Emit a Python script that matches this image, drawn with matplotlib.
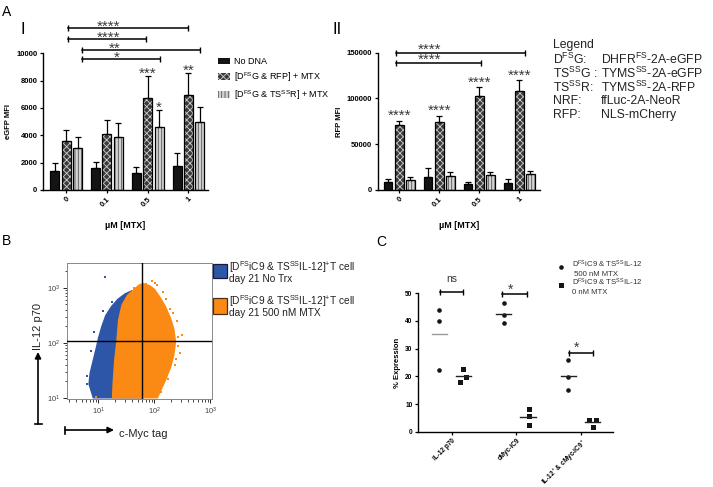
import numpy as np
import matplotlib
matplotlib.use("Agg")
import matplotlib.pyplot as plt
from matplotlib.patches import Patch, Rectangle

plt.rcParams['font.family'] = ['Liberation Sans', 'DejaVu Sans']
plt.rcParams['mathtext.fontset'] = 'custom'
plt.rcParams['mathtext.rm'] = 'Liberation Sans'
plt.rcParams['mathtext.it'] = 'Liberation Sans:italic'
plt.rcParams['mathtext.bf'] = 'Liberation Sans:bold'
plt.rcParams['hatch.linewidth'] = 0.6

W, H = 713, 487

# ---------------- panel A data ----------------
mtx_doses = ["0", "0.1", "0.5", "1"]
group_names = ["No DNA", r"[D$^{\mathrm{FS}}$G & RFP] + MTX",
               r"[D$^{\mathrm{FS}}$G & TS$^{\mathrm{SS}}$R] + MTX"]

egfp_nodna = [1400, 1600, 1250, 1750]
egfp_nodna_err = [600, 450, 400, 950]
egfp_rfp = [3600, 4100, 6750, 6950]
egfp_rfp_err = [800, 1000, 1600, 1600]
egfp_tsr = [3050, 3880, 4630, 5000]
egfp_tsr_err = [850, 1000, 1200, 1100]

rfp_nodna = [8700, 14500, 6900, 8000]
rfp_nodna_err = [3500, 9000, 2200, 3500]
rfp_rfp = [70600, 74300, 103000, 108500]
rfp_rfp_err = [5000, 6500, 9000, 11500]
rfp_tsr = [10900, 15600, 16400, 17500]
rfp_tsr_err = [3300, 4100, 3600, 3600]

# comparison brackets: (from, to, level, stars, star position)
egfp_sig = [(0.04, 3.0, 11830, "****", 1.05),
            (0.04, 1.96, 11020, "****", 1.05),
            (0.39, 3.28, 10240, "**", 1.2),
            (0.39, 2.30, 9560, "*", 1.24)]
egfp_bar_stars = [(1, 2, "***"), (2, 2, "*"), (1, 3, "**")]   # (series, dose, stars)
rfp_sig = [(-0.08, 3.15, 150000, "****", 0.77),
           (-0.08, 2.04, 138400, "****", 0.77)]
rfp_bar_stars = [(1, 0, "****"), (1, 1, "****"), (1, 2, "****"), (1, 3, "****")]

# ---------------- panel B data (log10 outlines of the clouds) ----------------
blue_logx = [0.90, 0.82, 0.84, 0.90, 0.96, 0.99, 1.05, 1.12, 1.22, 1.34, 1.47, 1.60, 1.80, 1.80]
blue_logy = [0.99, 1.25, 1.45, 1.70, 1.95, 2.09, 2.30, 2.50, 2.66, 2.80, 2.90, 2.96, 2.50, 0.99]
orange_logx = [1.63, 1.72, 1.80, 1.92, 2.01, 2.12, 2.21, 2.30, 2.36, 2.39, 2.36, 2.30, 2.21,
               2.12, 2.06, 1.24, 1.25, 1.28, 1.32, 1.35, 1.41, 1.51]
orange_logy = [2.98, 3.06, 3.09, 3.05, 2.98, 2.82, 2.66, 2.45, 2.25, 2.02, 1.78, 1.55, 1.32,
               1.12, 0.99, 0.99, 1.24, 1.69, 2.05, 2.42, 2.69, 2.87]
blue_out_logx = [1.12, 1.12, 0.80, 0.79, 0.86, 1.25, 1.08, 0.93]
blue_out_logy = [3.20, 3.19, 1.40, 1.25, 1.85, 2.74, 2.58, 2.20]
orange_out_logx = [2.49, 2.45, 2.36, 2.30, 1.63, 1.85, 2.26, 2.01, 2.40, 2.42, 0.95, 2.12,
                   2.05, 2.15, 2.28, 2.33, 2.20, 1.95, 2.42, 2.38, 1.70, 2.24]
orange_out_logy = [2.15, 1.81, 1.60, 2.27, 3.00, 3.07, 2.49, 3.09, 2.40, 1.95, 1.02, 1.10,
                   3.05, 2.92, 2.62, 2.55, 2.80, 3.12, 2.10, 1.70, 3.02, 1.35]
gate_x = 60
gate_y = 110

# ---------------- panel C data ----------------
c_categories = ["IL-12 p70", "cMyc-iC9", r"IL-12$^{+}$ & cMyc-iC9$^{+}$"]
c_mtx500 = [[43.9, 40.1, 22.2], [46.6, 42.2, 39.2], [25.8, 19.9, 14.9]]
c_mtx0 = [[22.7, 19.9, 17.8], [8.3, 5.7, 2.4], [4.2, 4.2, 1.8]]
c_mtx0_dx = [[0.17, 0.21, 0.12], [0.19, 0.19, 0.19], [0.13, 0.23, 0.18]]
c_sig = [(-0.19, 0.17, 50.5, "ns"), (0.78, 1.16, 49.6, "*"), (1.81, 2.19, 28.3, "*")]


def rect(l, t, r, b):
    return [l / W, 1 - b / H, (r - l) / W, (b - t) / H]


def prism_axes(ax):
    for s in ['top', 'right']:
        ax.spines[s].set_visible(False)
    for s in ['left', 'bottom']:
        ax.spines[s].set_linewidth(1.0)
    ax.tick_params(width=0.9, length=2.5, labelsize=5.5, pad=1.5)


def stars(ax, x, y, s, off=-2.2, size=11):
    ax.annotate(s, xy=(x, y), xytext=(0, off), textcoords='offset points', ha='center',
                va='baseline', fontsize=size, color='#3a3a3a', annotation_clip=False)


bar_off = [-0.28, 0.0, 0.28]
bar_w = 0.22
bar_fc = ['#141414', '#3a3a3a', '#d2d2d2']
bar_hatch = [None, 'xxxxx', '|||||']
bar_hc = ['#141414', '#d0d0d0', '#555555']


def draw_bars(ax, means, errs):
    x = np.arange(len(mtx_doses))
    for i in range(3):
        xs = x + bar_off[i]
        ax.bar(xs, means[i], bar_w, color=bar_fc[i], edgecolor=bar_hc[i],
               hatch=bar_hatch[i], linewidth=0, zorder=2)
        ax.bar(xs, means[i], bar_w, fill=False, edgecolor='black', linewidth=0.9, zorder=3)
        ax.errorbar(xs, means[i], yerr=[np.zeros(len(x)), errs[i]], fmt='none',
                    ecolor='black', elinewidth=0.9, capsize=2, capthick=0.9, zorder=4)
    ax.set_xticks(x, mtx_doses, rotation=45, ha='right', rotation_mode='anchor',
                  fontweight='bold')
    ax.set_xlabel(u"\u00b5M [MTX]", fontsize=6.5, fontweight='bold', labelpad=9)


def draw_sig(ax, sig, off):
    for x0, x1, y, s, sx in sig:
        ax.plot([x0, x1], [y, y], color='black', lw=1.1, marker='|', ms=4, mew=1.0,
                clip_on=False)
        stars(ax, sx, y, s, off)


fig = plt.figure(figsize=(W / 100, H / 100), dpi=100)

ov = fig.add_axes([0, 0, 1, 1])
ov.set_xlim(0, W)
ov.set_ylim(H, 0)
ov.axis('off')
ov.patch.set_visible(False)
ov.set_zorder(10)

# ---------------- A-I ----------------
ax1 = fig.add_axes(rect(43, 53.3, 208, 190))
egfp_means = [egfp_nodna, egfp_rfp, egfp_tsr]
egfp_errs = [egfp_nodna_err, egfp_rfp_err, egfp_tsr_err]
draw_bars(ax1, egfp_means, egfp_errs)
ax1.set_xlim(-0.57, 3.48)
ax1.set_ylim(0, 10000)
ax1.set_yticks(range(0, 10001, 2000))
ax1.set_yticklabels([str(v) for v in range(0, 10001, 2000)], fontweight='bold')
ax1.set_ylabel("eGFP MFI", fontsize=5.5, fontweight='bold', labelpad=3)
prism_axes(ax1)
draw_sig(ax1, egfp_sig, -2.0)
for si, di, s in egfp_bar_stars:
    stars(ax1, di + bar_off[si], egfp_means[si][di] + egfp_errs[si][di], s, -1.2)

# ---------------- A-II ----------------
ax2 = fig.add_axes(rect(378, 52.7, 540, 190))
rfp_means = [rfp_nodna, rfp_rfp, rfp_tsr]
rfp_errs = [rfp_nodna_err, rfp_rfp_err, rfp_tsr_err]
draw_bars(ax2, rfp_means, rfp_errs)
ax2.set_xlim(-0.53, 3.52)
ax2.set_ylim(0, 150000)
ax2.set_yticks(range(0, 150001, 50000))
ax2.set_yticklabels([str(v) for v in range(0, 150001, 50000)], fontweight='bold')
ax2.set_ylabel("RFP MFI", fontsize=5.5, fontweight='bold', labelpad=3)
prism_axes(ax2)
draw_sig(ax2, rfp_sig, -0.6)
for si, di, s in rfp_bar_stars:
    stars(ax2, di + bar_off[si], rfp_means[si][di] + rfp_errs[si][di], s, 0.6)

# legend for A
handles = [Patch(facecolor=bar_fc[i], edgecolor=bar_hc[i], hatch=bar_hatch[i], linewidth=0)
           for i in range(3)]
ov.legend(handles, group_names, loc='upper left', bbox_to_anchor=(218 / W, 1 - 57 / H),
          bbox_transform=fig.transFigure, frameon=False, fontsize=6.5, handlelength=1.3,
          handleheight=0.75, labelspacing=0.45, handletextpad=0.5, borderpad=0,
          borderaxespad=0)

# gene legend on the right
gene_keys = ["Legend", r"D$^{\mathrm{FS}}$G:", r"TS$^{\mathrm{SS}}$G :", r"TS$^{\mathrm{SS}}$R:",
             "NRF:", "RFP:"]
gene_vals = ["", r"DHFR$^{\mathrm{FS}}$-2A-eGFP", r"TYMS$^{\mathrm{SS}}$-2A-eGFP",
             r"TYMS$^{\mathrm{SS}}$-2A-RFP", "ffLuc-2A-NeoR", "NLS-mCherry"]
for k, (a, b) in enumerate(zip(gene_keys, gene_vals)):
    yy = 45 + 14 * k
    ov.text(553, yy, a, fontsize=8.8, va='center', ha='left', color='#222222')
    ov.text(601, yy, b, fontsize=8.8, va='center', ha='left', color='#222222')

# ---------------- B ----------------
flow_blue = '#2d56a8'
flow_orange = '#fb8a14'
axb = fig.add_axes(rect(67.3, 263, 212, 398.5))
axb.set_xscale('log')
axb.set_yscale('log')
axb.fill(10 ** np.array(blue_logx), 10 ** np.array(blue_logy), color=flow_blue, lw=0, zorder=1)
axb.scatter(10 ** np.array(blue_out_logx), 10 ** np.array(blue_out_logy), s=3, marker='s',
            color=flow_blue, lw=0, zorder=1)
axb.fill(10 ** np.array(orange_logx), 10 ** np.array(orange_logy), color=flow_orange, lw=0,
         zorder=2)
axb.scatter(10 ** np.array(orange_out_logx), 10 ** np.array(orange_out_logy), s=3,
            marker='s', color=flow_orange, lw=0, zorder=2)
axb.axvline(gate_x, color='black', lw=1.0, zorder=3)
axb.axhline(gate_y, color='black', lw=1.0, zorder=3)
axb.set_xlim(10 ** 0.444, 10 ** 3.03)
axb.set_ylim(10 ** 0.99, 10 ** 3.45)
axb.set_xticks([10, 100, 1000])
axb.set_yticks([10, 100, 1000])
for s in axb.spines.values():
    s.set_color('#888888')
    s.set_linewidth(0.7)
axb.tick_params(which='major', length=3, width=0.6, labelsize=5.5, labelcolor='#444444',
                pad=2)
axb.tick_params(which='minor', length=1.8, width=0.5)

# B legend
ov.add_patch(Rectangle((213, 264), 14, 14, facecolor=flow_blue, edgecolor='#1a1a3a', lw=0.9))
ov.add_patch(Rectangle((213, 298), 14, 16, facecolor=flow_orange, edgecolor='#4a3018', lw=0.9))
b_leg = [r"[D$^{\mathrm{FS}}$iC9 & TS$^{\mathrm{SS}}$IL-12]$^{+}$T cell", "day 21 No Trx",
         r"[D$^{\mathrm{FS}}$iC9 & TS$^{\mathrm{SS}}$IL-12]$^{+}$T cell", "day 21 500 nM MTX"]
for yy, t in zip([267, 279, 301, 313], b_leg):
    ov.text(229, yy, t, fontsize=7.3, va='center', ha='left', color='#222222')

# B axis arrows and labels
ov.annotate('', xy=(38, 352), xytext=(38, 424),
            arrowprops=dict(arrowstyle='-|>', lw=1.2, color='black', mutation_scale=9,
                            shrinkA=0, shrinkB=0))
ov.plot([34.5, 41.5], [424, 424], color='black', lw=1.2)
ov.text(38, 327, "IL-12 p70", rotation=90, fontsize=8, ha='center', va='center',
        color='#222222')
ov.annotate('', xy=(114, 430), xytext=(65, 430),
            arrowprops=dict(arrowstyle='-|>', lw=1.2, color='black', mutation_scale=9,
                            shrinkA=0, shrinkB=0))
ov.plot([65, 65], [426.5, 433.5], color='black', lw=1.2)
ov.text(119, 434, "c-Myc tag", fontsize=8, ha='left', va='center', color='#222222')

# ---------------- C ----------------
axc = fig.add_axes(rect(418, 293.3, 613, 431.7))
for i in range(len(c_categories)):
    axc.plot(np.full(3, i - 0.2), c_mtx500[i], 'o', color='#151515', ms=3.3, mew=0)
    axc.plot(i + np.array(c_mtx0_dx[i]), c_mtx0[i], 's', color='#151515', ms=3.6, mew=0)
    axc.plot([i - 0.315, i - 0.085], [np.mean(c_mtx500[i])] * 2,
             color='#999999' if i == 0 else '#222222', lw=1.0)
    axc.plot([i + 0.06, i + 0.3], [np.mean(c_mtx0[i])] * 2, color='#222222', lw=1.0)
for x0, x1, y, s in c_sig:
    axc.plot([x0, x1], [y, y], color='black', lw=1.1, marker='|', ms=4, mew=1.0, clip_on=False)
    if s == 'ns':
        axc.text((x0 + x1) / 2, y + 3.0, s, ha='center', va='bottom', fontsize=7.5,
                 color='#333333', clip_on=False)
    else:
        stars(axc, (x0 + x1) / 2 - 0.07, y, s, 0.8, 10)
axc.set_xlim(-0.527, 2.496)
axc.set_ylim(0, 50)
axc.set_yticks(range(0, 51, 10))
axc.set_yticklabels([str(v) for v in range(0, 51, 10)], fontweight='bold')
axc.set_xticks(range(3), c_categories, rotation=45, ha='right', rotation_mode='anchor',
               fontweight='bold')
axc.set_ylabel("% Expression", fontsize=5.5, fontweight='bold', labelpad=3)
prism_axes(axc)
axc.tick_params(labelsize=4.7)

# C legend
ov.plot([561], [267], 'o', color='#151515', ms=3.3, mew=0)
ov.plot([561], [284.5], 's', color='#151515', ms=3.6, mew=0)
c_leg = [r"D$^{\mathrm{FS}}$iC9 & TS$^{\mathrm{SS}}$IL-12", " 500 nM MTX",
         r"D$^{\mathrm{FS}}$iC9 & TS$^{\mathrm{SS}}$IL-12", "0 nM MTX"]
for yy, t in zip([264.5, 274, 282.5, 292.3], c_leg):
    ov.text(572, yy, t, fontsize=5.6, va='center', ha='left', color='#333333')

# panel letters
ov.text(2, 12, "A", fontsize=10, va='center', ha='left')
ov.text(2, 241, "B", fontsize=10, va='center', ha='left')
ov.text(376, 242, "C", fontsize=10, va='center', ha='left')
ov.text(20, 29, "I", fontsize=12, va='center', ha='left')
ov.text(333, 29, "II", fontsize=12, va='center', ha='left')

fig.savefig("out.png", dpi=100)
